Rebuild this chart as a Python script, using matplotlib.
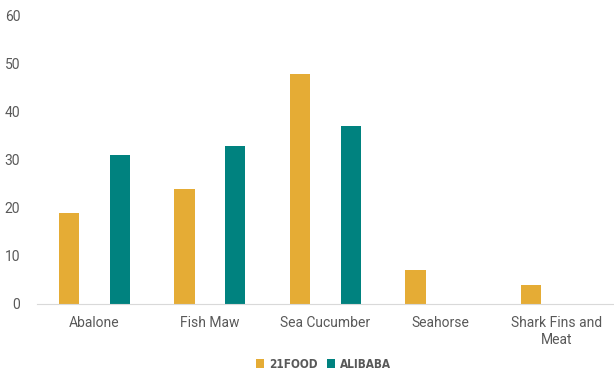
import matplotlib.pyplot as plt
import numpy as np

plt.rcParams['font.family'] = ['Roboto', 'DejaVu Sans']

categories = ['Abalone', 'Fish Maw', 'Sea Cucumber', 'Seahorse', 'Shark Fins and\nMeat']
food21 = [19, 24, 48, 7, 4]
alibaba = [31, 33, 37, 0, 0]

x = np.arange(len(categories))
w = 0.175

fig = plt.figure(figsize=(6.14, 3.72), dpi=100)
ax = fig.add_axes([0.060, 0.183, 0.94, 0.774])
ax.bar(x - 0.22, food21, w, color='#E5AC35', label='21FOOD')
ax.bar(x + 0.22, alibaba, w, color='#00827F', label='ALIBABA')

ax.set_xlim(-0.5, len(categories) - 0.5)
ax.set_ylim(0, 60)
ax.set_yticks(range(0, 61, 10))
ax.set_xticks(x)
ax.set_xticklabels(categories)
ax.tick_params(length=0, labelsize=10, colors='#595959', pad=9)
ax.tick_params(axis='y', pad=12)
for s in ['top', 'right', 'left']:
    ax.spines[s].set_visible(False)
ax.spines['bottom'].set_color('#D9D9D9')

fig.legend(loc='lower center', bbox_to_anchor=(0.527, -0.025), ncol=2, frameon=False,
           handlelength=0.7, handleheight=0.7, columnspacing=0.8, handletextpad=0.4,
           prop={'family': ['DejaVu Sans'], 'stretch': 'condensed', 'weight': 'bold', 'size': 8.5},
           labelcolor='#595959')
fig.savefig('out.png', dpi=100)
